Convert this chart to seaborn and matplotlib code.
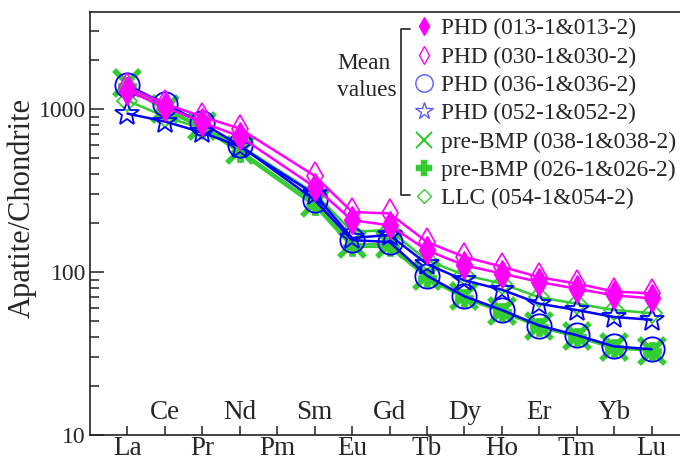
import matplotlib
matplotlib.use("Agg")
import matplotlib.pyplot as plt
from matplotlib.lines import Line2D
from matplotlib.ticker import FixedLocator, FixedFormatter, NullFormatter
import pandas as pd
import seaborn as sns

# Rare earth elements along the x axis (Pm is not measured)
elements = ["La", "Ce", "Pr", "Nd", "Pm", "Sm", "Eu", "Gd",
            "Tb", "Dy", "Ho", "Er", "Tm", "Yb", "Lu"]
measured = ["La", "Ce", "Pr", "Nd", "Sm", "Eu", "Gd",
            "Tb", "Dy", "Ho", "Er", "Tm", "Yb", "Lu"]

# Chondrite-normalised apatite REE, mean values per sample pair
phd_013 = [1300, 1030, 830, 680, 333, 208, 194, 136, 110, 98, 87, 79, 72, 69]
phd_030 = [1360, 1080, 900, 760, 390, 234, 229, 153, 124, 108, 93, 85, 76, 74]
phd_036 = [1400, 1080, 820, 600, 277, 157, 153, 95, 71, 58.5, 47, 41, 35, 33.6]
phd_052 = [940, 840, 720, 590, 300, 162, 169, 112, 89, 78, 64, 58.5, 53, 51]
bmp_038 = [1450, 1000, 790, 560, 265, 148, 148, 94, 71, 58, 47, 40.5, 34.5, 33]
bmp_026 = [1380, 980, 770, 540, 255, 143, 143, 92, 69, 57, 46, 40, 34, 33]
llc_054 = [1130, 900, 760, 600, 305, 177, 181, 118, 96, 85, 70, 64, 58.5, 56]

labels = ["PHD (013-1&013-2)", "PHD (030-1&030-2)", "PHD (036-1&036-2)",
          "PHD (052-1&052-2)", "pre-BMP (038-1&038-2)",
          "pre-BMP (026-1&026-2)", "LLC (054-1&054-2)"]
series = [phd_013, phd_030, phd_036, phd_052, bmp_038, bmp_026, llc_054]

y_ticks = [10, 100, 1000]
y_ticklabels = ["10", "100", "1000"]

MAGENTA = "#FF00FF"
BLUE = "#0000FF"
GREEN = "#33CC33"

# plot style per series: marker, size, colour, face, edge width, zorder
styles = [
    dict(marker="d", ms=14, color=MAGENTA, mfc=MAGENTA, mew=1.0, z=9),
    dict(marker="d", ms=14, color=MAGENTA, mfc="none", mew=1.2, z=8),
    dict(marker="o", ms=17.5, color=BLUE, mfc="none", mew=1.3, z=6),
    dict(marker="*", ms=18, color=BLUE, mfc="none", mew=1.3, z=7),
    dict(marker="x", ms=19, color=GREEN, mfc=GREEN, mew=4, z=3),
    dict(marker="P", ms=13, color=GREEN, mfc=GREEN, mew=0.5, z=4),
    dict(marker="D", ms=10, color=GREEN, mfc="none", mew=1.3, z=5),
]
legend_styles = [
    dict(marker="d", ms=9, mec=MAGENTA, mfc=MAGENTA, mew=1.0),
    dict(marker="d", ms=9, mec=MAGENTA, mfc="none", mew=1.0),
    dict(marker="o", ms=12.5, mec="#5a5aff", mfc="none", mew=1.0),
    dict(marker="*", ms=13, mec="#5a5aff", mfc="none", mew=1.0),
    dict(marker="x", ms=11, mec=GREEN, mfc=GREEN, mew=1.5),
    dict(marker="P", ms=11, mec=GREEN, mfc=GREEN, mew=0.3),
    dict(marker="D", ms=7.5, mec=GREEN, mfc="none", mew=1.0),
]

sns.set_theme(style="ticks")
plt.rcParams["font.family"] = ["Liberation Serif", "DejaVu Serif"]

W, H = 680, 468
fig = plt.figure(figsize=(W / 100, H / 100), dpi=100)
ax = fig.add_axes([90 / W, (H - 435) / H, (689 - 90) / W, (435 - 12) / H])

pos = {el: i for i, el in enumerate(elements)}
frames = []
for lab, vals in zip(labels, series):
    frames.append(pd.DataFrame({"element": measured,
                                "x": [pos[e] for e in measured],
                                "value": vals, "sample": lab}))
df = pd.concat(frames, ignore_index=True)

for lab, st in zip(labels, styles):
    sub = df[df["sample"] == lab]
    sns.lineplot(data=sub, x="x", y="value", ax=ax, legend=False,
                 color=st["color"], linewidth=1.8, marker=st["marker"],
                 markersize=st["ms"], markerfacecolor=st["mfc"],
                 markeredgecolor=st["color"], markeredgewidth=st["mew"],
                 zorder=st["z"], sort=False)

ax.set_yscale("log")
ax.set_ylim(10, 3950)
ax.set_xlim(-1, 15)

ax.yaxis.set_major_locator(FixedLocator(y_ticks))
ax.yaxis.set_major_formatter(FixedFormatter(y_ticklabels))
minor = [m * d for d in (10, 100, 1000) for m in range(2, 10)]
ax.yaxis.set_minor_locator(FixedLocator(minor))
ax.yaxis.set_minor_formatter(NullFormatter())

even = list(range(0, len(elements), 2))
odd = list(range(1, len(elements), 2))
ax.set_xticks(even)
ax.set_xticklabels([elements[i] for i in even])
ax.set_xticks(odd, minor=True)
ax.set_xticklabels([elements[i] for i in odd], minor=True)

ax.tick_params(axis="x", which="major", direction="in", length=6.5, width=1.1,
               pad=0.5, labelsize=19.5, color="#222222")
ax.tick_params(axis="x", which="minor", direction="in", length=6.5, width=1.1,
               pad=-25, labelsize=19.5, color="#222222")
ax.tick_params(axis="y", which="major", direction="in", length=10, width=1.1,
               pad=3, labelsize=17, color="#222222")
ax.tick_params(axis="y", which="minor", direction="in", length=6.5, width=1.1,
               color="#222222")
ax.tick_params(top=False, right=False)

for side in ("left", "bottom", "top", "right"):
    ax.spines[side].set_linewidth(1.2)
    ax.spines[side].set_color("#222222")

ax.set_xlabel("")
ax.set_ylabel("Apatite/Chondrite", fontsize=22)
ax.yaxis.set_label_coords((37 - 90) / 599, (435 - 208) / 423)

handles = [Line2D([], [], linestyle="None", **ls) for ls in legend_styles]
fig.legend(handles, labels, loc="upper left",
           bbox_to_anchor=(415 / W, 1 - 18 / H), bbox_transform=fig.transFigure,
           frameon=False, fontsize=16.8, handlelength=0.8, handletextpad=0.3,
           labelspacing=0.3, borderpad=0, borderaxespad=0)

# bracket grouping the legend entries
bx0, bx1, by0, by1 = 401, 410, 29, 195
fig.add_artist(Line2D([bx1 / W, bx0 / W, bx0 / W, bx1 / W],
                      [1 - by0 / H, 1 - by0 / H, 1 - by1 / H, 1 - by1 / H],
                      transform=fig.transFigure, color="#222222", linewidth=1.2))
fig.text(337 / W, 1 - 77 / H, "Mean\nvalues", ha="left", va="center",
         fontsize=16.8, linespacing=1.35)

fig.savefig("out.png", dpi=100)
